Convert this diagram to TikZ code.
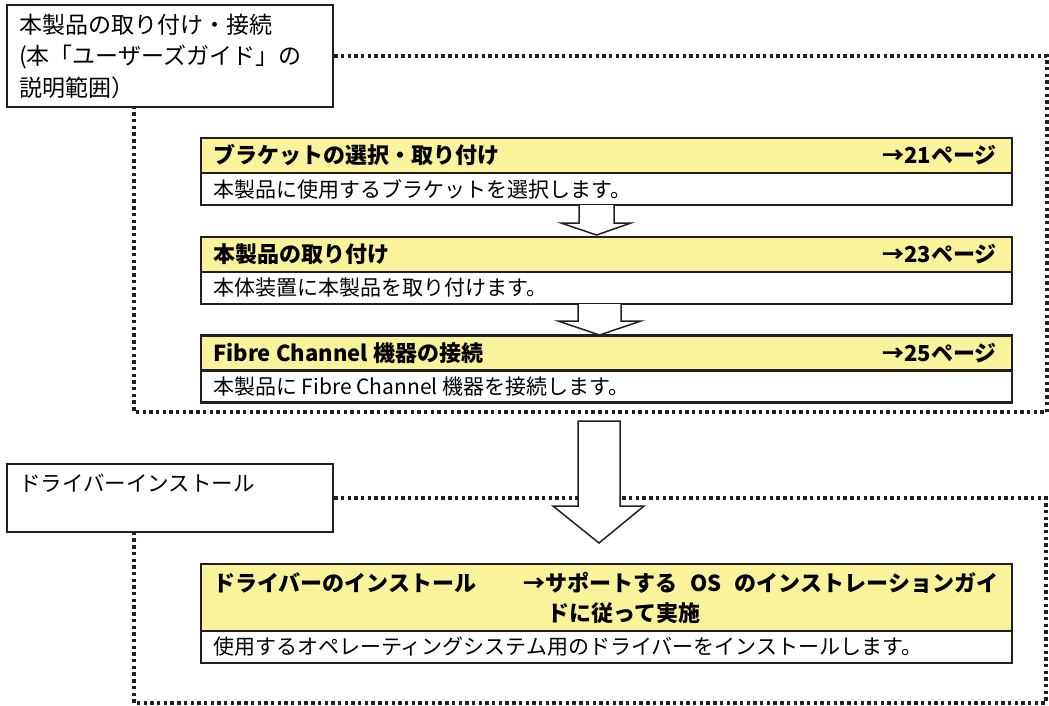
\documentclass[tikz,border=0pt]{standalone}
\usepackage{fontspec}
\setmainfont{Noto Sans CJK JP}
\usetikzlibrary{positioning}
\definecolor{stepyellow}{RGB}{250,243,156}
\definecolor{ink}{RGB}{35,31,32}

\begin{document}
\begin{tikzpicture}[x=1pt, y=-1pt,
		capbox/.style={rectangle, draw=ink, line width=2.5pt, minimum width=326pt, inner sep=0pt},
		captext/.style={anchor=west, align=left, inner sep=0pt, font=\fontsize{23}{31.5}\selectfont},
		head/.style={rectangle, draw=ink, fill=stepyellow, line width=2.5pt, minimum width=811pt, minimum height=35pt, inner sep=0pt, outer sep=0pt},
		body/.style={rectangle, draw=ink, fill=white, line width=2.5pt, minimum width=811pt, minimum height=32pt, inner sep=0pt, outer sep=0pt},
		headtext/.style={anchor=west, inner sep=0pt, font=\fontsize{22}{30}\selectfont\bfseries},
		pagetext/.style={anchor=east, inner sep=0pt, font=\fontsize{22}{30}\selectfont\bfseries},
		bodytext/.style={anchor=west, inner sep=0pt, font=\fontsize{21}{29}\selectfont},
		frame/.style={draw=ink, line width=3.2pt, dash pattern=on 3.4pt off 3.3pt},
		blockarrow/.style={draw=ink, fill=white, line width=1.5pt, line join=miter}
		]
		\useasboundingbox (0,0) rectangle (1049,706);

		% dotted frames
		\node [capbox, minimum height=102pt] (cap1) at (170,56) {};
		\node [capbox, minimum height=68pt] (cap2) at (170,498) {};
		\draw [frame] (cap1.east) -- (1047,56) -- (1047,412) -- (134,412) -- (134,107);
		\draw [frame] (cap2.east) -- (1046,498) -- (1046,703) -- (134,703) -- (134,532);
		\node [captext] (cap1 text) at (19,56) {本製品の取り付け・接続\\(本「ユーザーズガイド」の\\説明範囲）};
		\node [captext, font=\fontsize{21.5}{30}\selectfont] (cap2 text) at (19,483) {ドライバーインストール};

		% step boxes
		\node [head] (h1) at (606.5,155.5) {};
		\node [body] (b1) [below=0pt of h1] {};
		\node [head] (h2) at (606.5,254.5) {};
		\node [body] (b2) [below=0pt of h2] {};
		\node [head] (h3) at (606.5,353) {};
		\node [body] (b3) [below=0pt of h3] {};
		\node [head, minimum height=67pt] (h4) at (606.5,597.5) {};
		\node [body] (b4) [below=0pt of h4] {};

		\node [headtext] (t1) [right=12pt of h1.west] {ブラケットの選択・取り付け};
		\node [pagetext] (p1) [left=15pt of h1.east] {→21ページ};
		\node [bodytext] (d1) [right=12pt of b1.west] {本製品に使用するブラケットを選択します。};
		\node [headtext] (t2) [right=12pt of h2.west] {本製品の取り付け};
		\node [pagetext] (p2) [left=15pt of h2.east] {→23ページ};
		\node [bodytext] (d2) [right=12pt of b2.west] {本体装置に本製品を取り付けます。};
		\node [headtext] (t3) [right=12pt of h3.west] {Fibre Channel 機器の接続};
		\node [pagetext] (p3) [left=15pt of h3.east] {→25ページ};
		\node [bodytext] (d3) [right=12pt of b3.west] {本製品に Fibre Channel 機器を接続します。};
		\node [headtext] (t4) at (213,583) {ドライバーのインストール};
		\node [headtext] (p4) at (523,583) {→サポートする\hspace{0.6em}OS\hspace{0.6em}のインストレーションガイ};
		\node [headtext] (p4b) at (547,613) {ドに従って実施};
		\node [bodytext] (d4) [right=12pt of b4.west] {使用するオペレーティングシステム用のドライバーをインストールします。};

		% block arrows
		\draw [blockarrow] (579,205) -- (579,223) -- (561,223) -- (596.5,235) -- (631,223) -- (614,223) -- (614,205);
		\draw [blockarrow] (578,304) -- (578,321) -- (558,321) -- (599.5,335) -- (641,321) -- (621,321) -- (621,304);
		\draw [blockarrow] (578,421) -- (578,506) -- (553,506) -- (599,543) -- (644,506) -- (620,506) -- (620,421) -- cycle;
	\end{tikzpicture}
\end{document}
